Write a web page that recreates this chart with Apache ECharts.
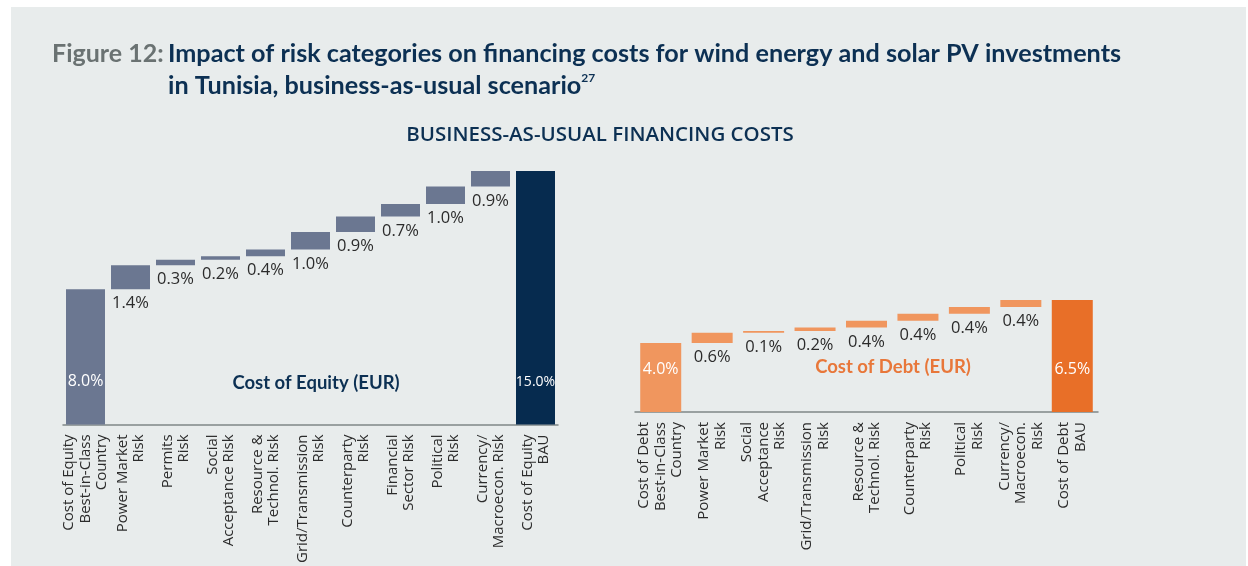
<!DOCTYPE html>
<html>
<head>
<meta charset="utf-8">
<title>Business-as-usual financing costs</title>
<script src="https://cdn.jsdelivr.net/npm/echarts@6/dist/echarts.min.js"></script>
<style>
  html, body { margin: 0; padding: 0; background: #ffffff; }
  #panel { position: absolute; left: 11px; top: 7px; width: 1235px; height: 559px; background: #e8ecec; }
  #chart { position: absolute; left: 0; top: 0; width: 1248px; height: 566px; }
</style>
</head>
<body>
<div id="panel"></div>
<div id="chart"></div>
<script>
// cost of equity waterfall (left)
var equityCats = [
  "Cost of Equity\nBest-in-Class\nCountry",
  "Power Market\nRisk",
  "Permits\nRisk",
  "Social\nAcceptance Risk",
  "Resource &\nTechnol. Risk",
  "Grid/Transmission\nRisk",
  "Counterparty\nRisk",
  "Financial\nSector Risk",
  "Political\nRisk",
  "Currency/\nMacroecon. Risk",
  "Cost of Equity\nBAU"
];
var equityStart = 8.0;
var equitySteps = [1.42, 0.32, 0.22, 0.4, 1.03, 0.92, 0.74, 1.03, 0.92];
var equityTotal = 15.0;

// cost of debt waterfall (right)
var debtCats = [
  "Cost of Debt\nBest-in-Class\nCountry",
  "Power Market\nRisk",
  "Social\nAcceptance\nRisk",
  "Grid/Transmission\nRisk",
  "Resource &\nTechnol. Risk",
  "Counterparty\nRisk",
  "Political\nRisk",
  "Currency/\nMacroecon.\nRisk",
  "Cost of Debt\nBAU"
];
var debtStart = 4.0;
var debtSteps = [0.6, 0.1, 0.2, 0.4, 0.4, 0.4, 0.4];
var debtTotal = 6.5;

var FONT = "'Open Sans', 'Noto Sans', sans-serif";
var TITLE_FONT = "Lato, 'Open Sans', sans-serif";

function pct(v) { return v.toFixed(1) + "%"; }

// build invisible base + visible bar for one waterfall
function waterfall(start, steps, total, stepColor, startColor, totalColor, totalLabelSize) {
  var base = [0], vis = [];
  var run = start;
  var whiteLabel = function (size) {
    return {
      show: true, position: "insideBottom", distance: 35,
      color: "#ffffff", fontFamily: FONT, fontSize: size,
      formatter: function (p) { return pct(p.value); }
    };
  };
  vis.push({ value: start, itemStyle: { color: startColor }, label: whiteLabel(16) });
  steps.forEach(function (s) {
    base.push(run);
    vis.push({ value: s, itemStyle: { color: stepColor } });
    run += s;
  });
  base.push(0);
  vis.push({ value: total, itemStyle: { color: totalColor }, label: whiteLabel(totalLabelSize) });
  return { base: base, vis: vis };
}

var eq = waterfall(equityStart, equitySteps, equityTotal, "#6b7791", "#6b7791", "#062b4f", 14);
var db = waterfall(debtStart, debtSteps, debtTotal, "#f0965e", "#f0965e", "#e86f28", 16);

var axisLabelStyle = {
  interval: 0, rotate: 90, margin: 10,
  fontFamily: FONT, fontSize: 15, lineHeight: 16.5, color: "#2b2b2b"
};

var stepLabel = {
  show: true, position: "bottom", distance: 6,
  fontFamily: FONT, fontSize: 16.5, color: "#2b2b2b",
  formatter: function (p) { return pct(p.value); }
};

var chart = echarts.init(document.getElementById("chart"));
chart.setOption({
  animation: false,
  backgroundColor: "transparent",
  grid: [
    { left: 63, top: 171, width: 495, height: 256 },
    { left: 635, top: 300, width: 463, height: 112 }
  ],
  xAxis: [
    {
      type: "category", gridIndex: 0, data: equityCats,
      axisTick: { show: false },
      axisLine: { lineStyle: { color: "#7f8787", width: 1.5 } },
      axisLabel: axisLabelStyle
    },
    {
      type: "category", gridIndex: 1, data: debtCats,
      axisTick: { show: false },
      axisLine: { lineStyle: { color: "#7f8787", width: 1.5 } },
      axisLabel: axisLabelStyle
    }
  ],
  yAxis: [
    { type: "value", gridIndex: 0, min: 0, max: 15, show: false },
    { type: "value", gridIndex: 1, min: 0, max: 6.5, show: false }
  ],
  series: [
    {
      type: "bar", xAxisIndex: 0, yAxisIndex: 0, stack: "eq", barWidth: 39,
      itemStyle: { color: "transparent" }, data: eq.base, silent: true
    },
    {
      type: "bar", xAxisIndex: 0, yAxisIndex: 0, stack: "eq", barWidth: 39,
      data: eq.vis, label: stepLabel
    },
    {
      type: "bar", xAxisIndex: 1, yAxisIndex: 1, stack: "db", barWidth: 41,
      itemStyle: { color: "transparent" }, data: db.base, silent: true
    },
    {
      type: "bar", xAxisIndex: 1, yAxisIndex: 1, stack: "db", barWidth: 41,
      data: db.vis, label: stepLabel
    }
  ],
  graphic: [
    {
      type: "text", x: 52, y: 54,
      style: {
        text: "Figure 12:", font: "bold 25px " + TITLE_FONT, fill: "#6a7272",
        align: "left", verticalAlign: "middle"
      }
    },
    {
      type: "text", x: 168, y: 54,
      style: {
        text: "Impact of risk categories on financing costs for wind energy and solar PV investments",
        font: "bold 25.2px " + TITLE_FONT, fill: "#0c3053",
        align: "left", verticalAlign: "middle"
      }
    },
    {
      type: "text", x: 168, y: 86,
      style: {
        text: "{b|in Tunisia, business-as-usual scenario}{s|27}",
        verticalAlign: "middle",
        rich: {
          b: { font: "bold 25.2px " + TITLE_FONT, fill: "#0c3053", lineHeight: 28 },
          s: { font: "bold 12px " + TITLE_FONT, fill: "#0c3053", verticalAlign: "top", lineHeight: 28 }
        }
      }
    },
    {
      type: "text", x: 600, y: 135,
      style: {
        text: "BUSINESS-AS-USUAL FINANCING COSTS",
        font: "600 20.5px " + FONT, fill: "#0c3053",
        align: "center", verticalAlign: "middle"
      }
    },
    {
      type: "text", x: 316, y: 383,
      style: {
        text: "Cost of Equity (EUR)",
        font: "bold 18.5px " + TITLE_FONT, fill: "#0c3053",
        align: "center", verticalAlign: "middle"
      }
    },
    {
      type: "text", x: 893, y: 367,
      style: {
        text: "Cost of Debt (EUR)",
        font: "bold 18.5px " + TITLE_FONT, fill: "#e8773a",
        align: "center", verticalAlign: "middle"
      }
    }
  ]
});
</script>
</body>
</html>
